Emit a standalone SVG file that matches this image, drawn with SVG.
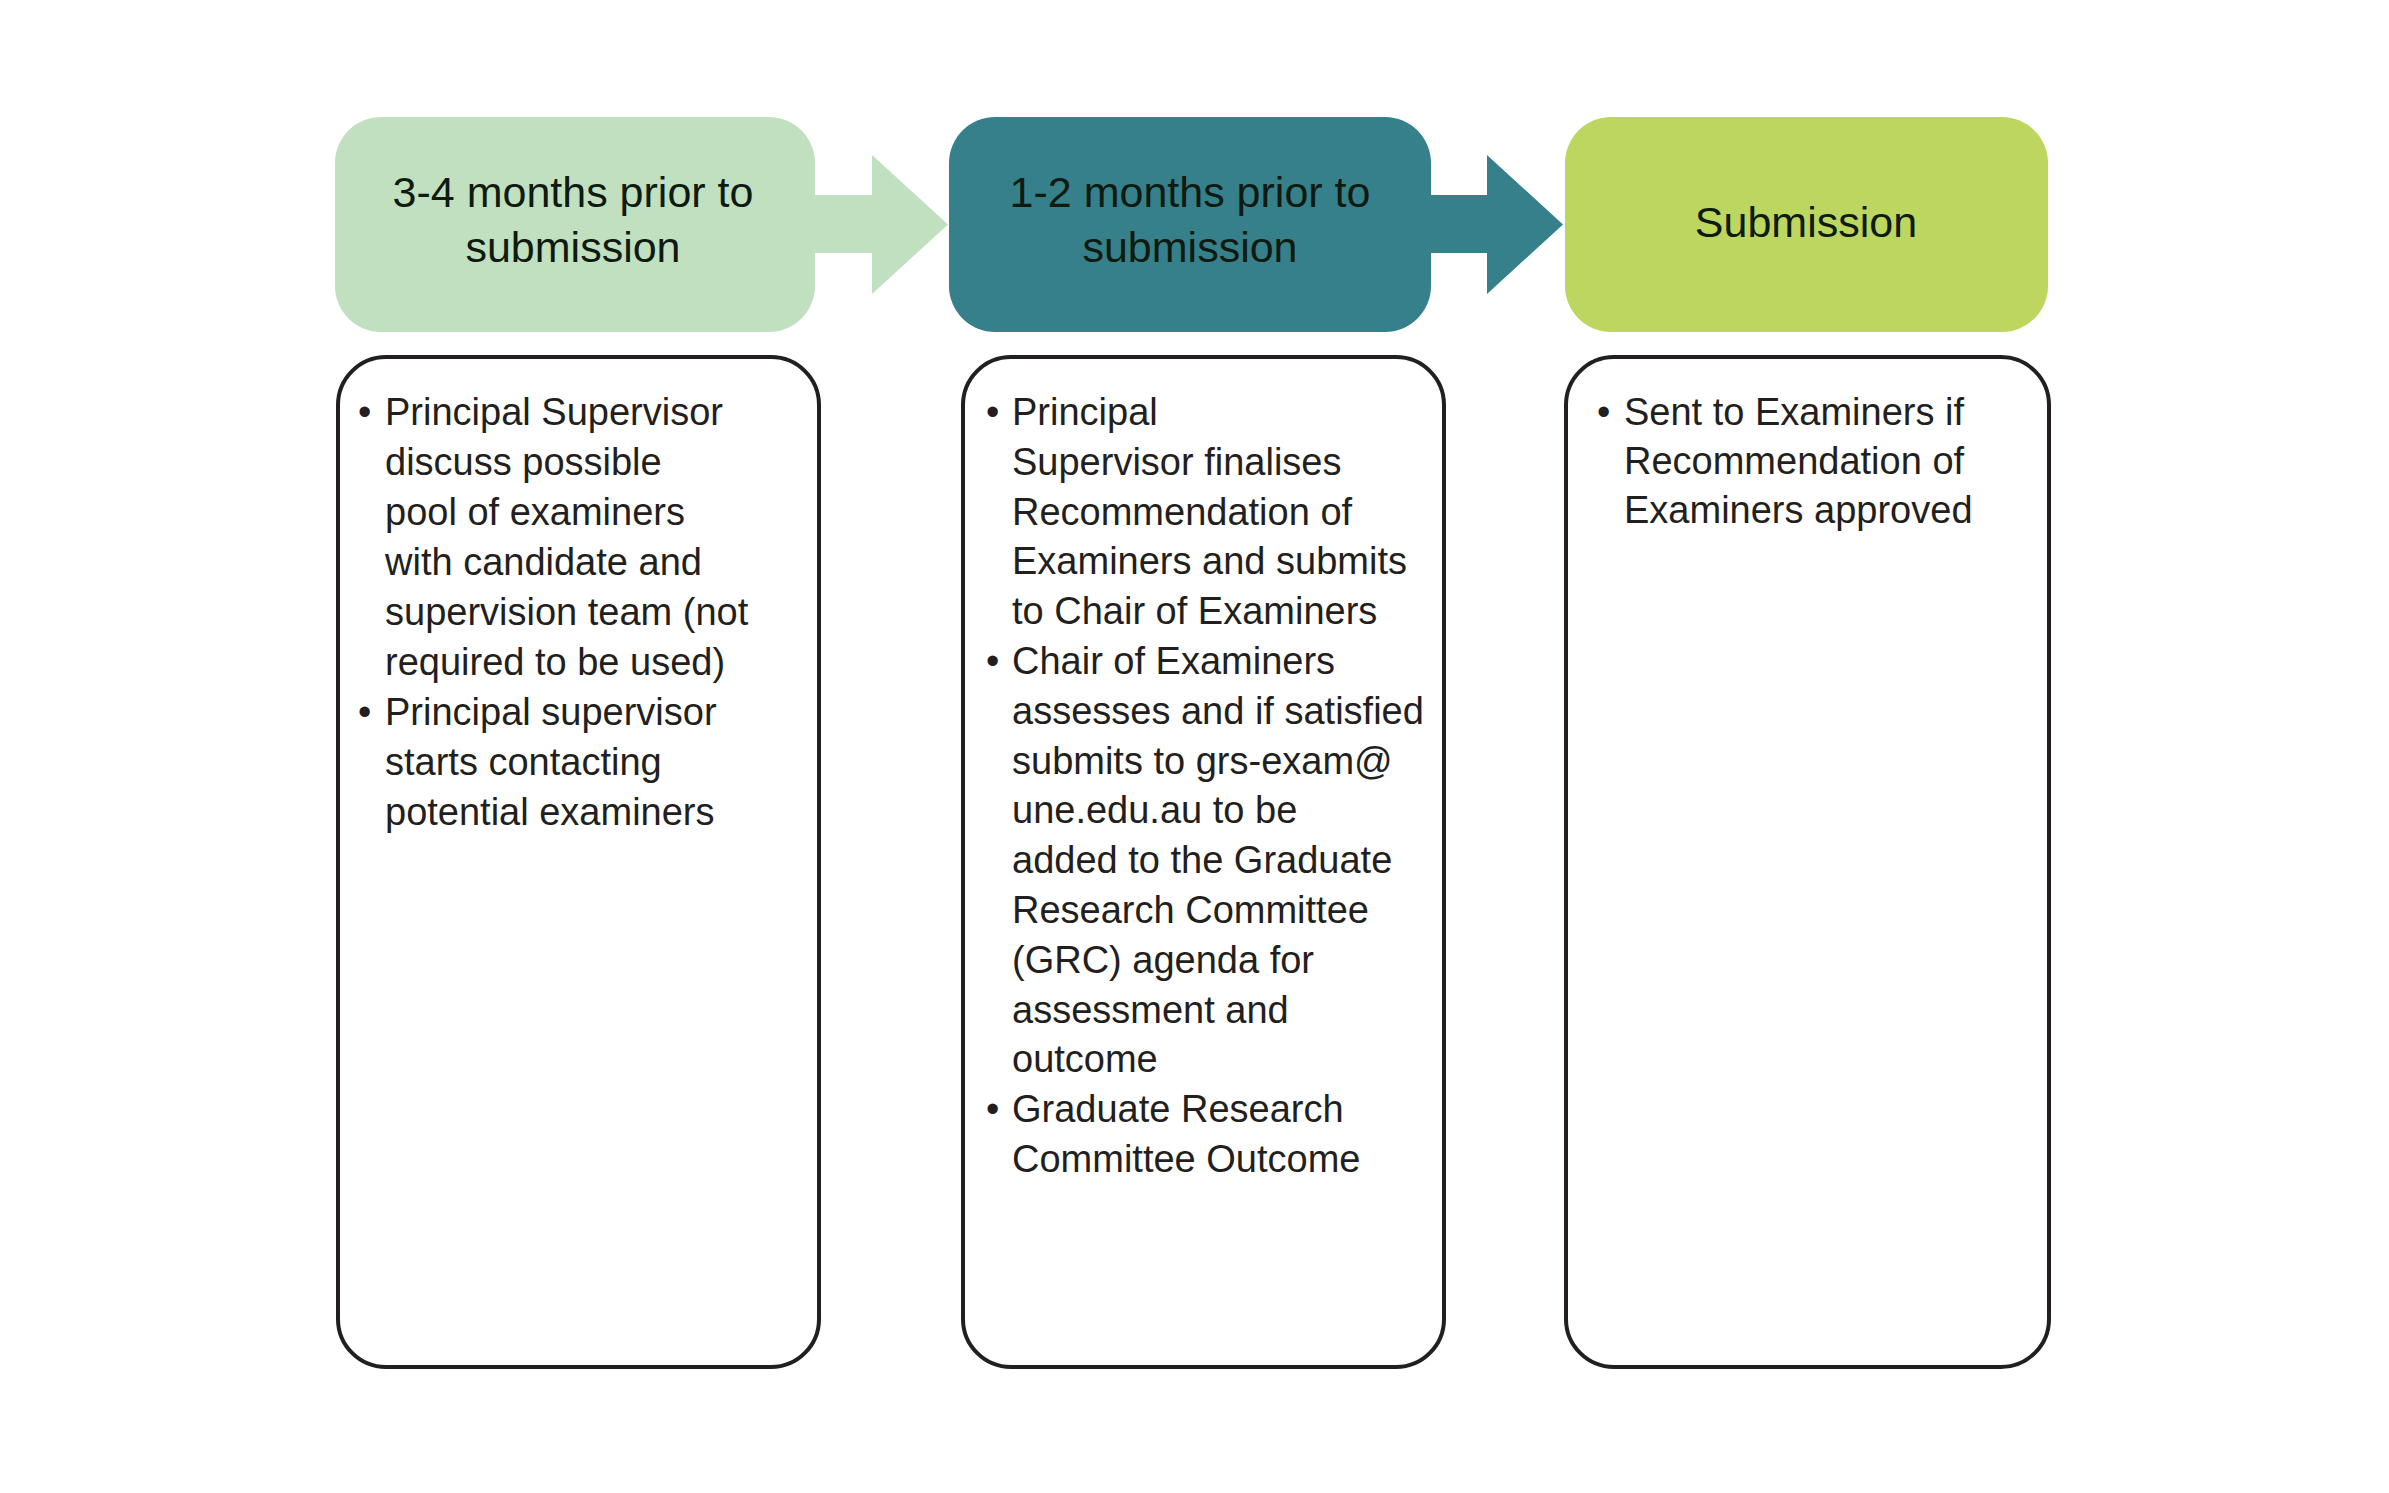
<svg xmlns="http://www.w3.org/2000/svg" width="2389" height="1493" viewBox="0 0 2389 1493">
<style>
.hdr{font-family:"Liberation Sans",Arial,sans-serif;font-size:43px;fill:#0f1a10;text-anchor:middle}
.body{font-family:"Liberation Sans",Arial,sans-serif;font-size:38px;fill:#231f20}
.card{fill:#ffffff;stroke:#231f20;stroke-width:4}
</style>
<rect width="2389" height="1493" fill="#ffffff"/>
<g id="connectors">
<polygon points="815,195 872,195 872,155 948,224.5 872,294 872,253 815,253" fill="#c1e0c0"/>
<polygon points="1431,195 1487,195 1487,155 1563,224.5 1487,294 1487,253 1431,253" fill="#35808a"/>
</g>
<g id="header1">
<rect x="335" y="117" width="480" height="215" rx="46" fill="#c1e0c0"/>
<text class="hdr" x="573" y="207">3-4 months prior to</text>
<text class="hdr" x="573" y="262">submission</text>
</g>
<g id="header2">
<rect x="949" y="117" width="482" height="215" rx="46" fill="#35808a"/>
<text class="hdr" x="1190" y="207">1-2 months prior to</text>
<text class="hdr" x="1190" y="262">submission</text>
</g>
<g id="header3">
<rect x="1565" y="117" width="483" height="215" rx="46" fill="#bcd660"/>
<text class="hdr" x="1806" y="237">Submission</text>
</g>
<g id="card1">
<rect class="card" x="338" y="357" width="481" height="1010" rx="48"/>
<text class="body" x="358" y="425">•</text>
<text class="body" x="385" y="425">Principal Supervisor</text>
<text class="body" x="385" y="475">discuss possible</text>
<text class="body" x="385" y="525">pool of examiners</text>
<text class="body" x="385" y="575">with candidate and</text>
<text class="body" x="385" y="625">supervision team (not</text>
<text class="body" x="385" y="675">required to be used)</text>
<text class="body" x="358" y="725">•</text>
<text class="body" x="385" y="725">Principal supervisor</text>
<text class="body" x="385" y="775">starts contacting</text>
<text class="body" x="385" y="825">potential examiners</text>
</g>
<g id="card2">
<rect class="card" x="963" y="357" width="481" height="1010" rx="48"/>
<text class="body" x="986" y="425">•</text>
<text class="body" x="1012" y="425">Principal</text>
<text class="body" x="1012" y="474.8">Supervisor finalises</text>
<text class="body" x="1012" y="524.6">Recommendation of</text>
<text class="body" x="1012" y="574.4">Examiners and submits</text>
<text class="body" x="1012" y="624.2">to Chair of Examiners</text>
<text class="body" x="986" y="674">•</text>
<text class="body" x="1012" y="674">Chair of Examiners</text>
<text class="body" x="1012" y="723.8">assesses and if satisfied</text>
<text class="body" x="1012" y="773.6">submits to grs-exam@</text>
<text class="body" x="1012" y="823.4">une.edu.au to be</text>
<text class="body" x="1012" y="873.2">added to the Graduate</text>
<text class="body" x="1012" y="923">Research Committee</text>
<text class="body" x="1012" y="972.8">(GRC) agenda for</text>
<text class="body" x="1012" y="1022.6">assessment and</text>
<text class="body" x="1012" y="1072.4">outcome</text>
<text class="body" x="986" y="1122.2">•</text>
<text class="body" x="1012" y="1122.2">Graduate Research</text>
<text class="body" x="1012" y="1172">Committee Outcome</text>
</g>
<g id="card3">
<rect class="card" x="1566" y="357" width="483" height="1010" rx="48"/>
<text class="body" x="1597" y="425">•</text>
<text class="body" x="1624" y="425">Sent to Examiners if</text>
<text class="body" x="1624" y="474">Recommendation of</text>
<text class="body" x="1624" y="523">Examiners approved</text>
</g>
</svg>
